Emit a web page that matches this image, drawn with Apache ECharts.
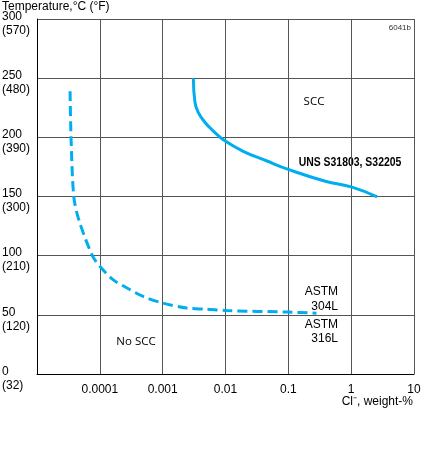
<!DOCTYPE html>
<html>
<head>
<meta charset="utf-8">
<script src="https://cdn.jsdelivr.net/npm/echarts@6/dist/echarts.min.js"></script>
<style>
  html, body { margin: 0; padding: 0; background: #fff; }
  #main { width: 424px; height: 467px; }
</style>
</head>
<body>
<div id="main"></div>
<script>
// 数据：Cl- 含量 (weight-%) 与温度 (°C)
var xTicks = [0.00001, 0.0001, 0.001, 0.01, 0.1, 1, 10];
var xTickLabels = ['', '0.0001', '0.001', '0.01', '0.1', '1', '10'];
var yTicksC = [0, 50, 100, 150, 200, 250, 300];
var yTicksF = [32, 120, 210, 300, 390, 480, 570];

// ASTM 304L / 316L 曲线（虚线）
var austeniticCl = [0.0000336, 0.0000348, 0.0000385, 0.0000462, 0.000076, 0.0001, 0.000162, 0.000267, 0.00049, 0.001, 0.0024, 0.005, 0.0105, 0.1, 0.28];
var austeniticT  = [239, 200, 150, 130.5, 100, 91, 79.7, 72.9, 65.5, 60, 55.7, 54.8, 53.6, 52.3, 51.4];

// UNS S31803, S32205 曲线（实线）
var duplexCl = [0.00308, 0.00327, 0.0037, 0.00473, 0.00641, 0.0095, 0.0195, 0.0456, 0.1, 0.388, 1.03, 2.59];
var duplexT  = [250, 229.4, 220.9, 212.5, 205.3, 197.5, 188, 180, 172.9, 162.9, 157.9, 149.7];

function pairs(xs, ys) {
    return xs.map(function (x, i) { return [x, ys[i]]; });
}

var myChart = echarts.init(document.getElementById('main'));
var lineColor = '#00aeef';
var gridColor = '#555';

var option = {
    animation: false,
    grid: { left: 37, right: 10, top: 19, bottom: 93, containLabel: false, outerBoundsMode: 'none' },
    xAxis: {
        type: 'log',
        logBase: 10,
        min: xTicks[0],
        max: xTicks[xTicks.length - 1],
        axisLine: { show: true, lineStyle: { color: '#000', width: 1 } },
        axisTick: { show: false },
        splitLine: { show: true, lineStyle: { color: gridColor, width: 1 } },
        axisLabel: {
            color: '#000',
            fontFamily: 'Liberation Sans',
            fontSize: 12,
            margin: 10,
            formatter: function (v) {
                var idx = xTicks.indexOf(Number(v));
                if (idx < 0) {
                    idx = Math.round(Math.log10(v)) + 5;
                }
                return xTickLabels[idx] || '';
            }
        }
    },
    yAxis: {
        type: 'value',
        min: 0,
        max: 300,
        interval: 50,
        axisLine: { show: true, lineStyle: { color: '#000', width: 1 } },
        axisTick: { show: false },
        splitLine: { show: true, lineStyle: { color: gridColor, width: 1 } },
        axisLabel: {
            color: '#000',
            align: 'left',
            margin: 35,
            formatter: function (v) {
                var idx = yTicksC.indexOf(v);
                return '{s| }\n{a|' + yTicksC[idx] + '}\n{a|(' + yTicksF[idx] + ')}';
            },
            rich: {
                s: { fontSize: 1, lineHeight: 9 },
                a: { fontFamily: 'Liberation Sans', fontSize: 12, lineHeight: 14, color: '#000' }
            }
        }
    },
    series: [
        {
            name: 'ASTM 304L / 316L',
            type: 'line',
            data: pairs(austeniticCl, austeniticT),
            smooth: 0.3,
            symbol: 'none',
            lineStyle: { color: lineColor, width: 3, type: [10, 5] }
        },
        {
            name: 'UNS S31803, S32205',
            type: 'line',
            data: pairs(duplexCl, duplexT),
            smooth: 0.45,
            symbol: 'none',
            lineStyle: { color: lineColor, width: 3 }
        }
    ],
    graphic: [
        { type: 'text', left: 2, top: 1, style: { text: 'Temperature,°C (°F)', font: '12px "Liberation Sans"', fill: '#000' } },
        { type: 'text', x: 411, y: 28, style: { text: '6041b', font: '8px "Liberation Sans"', fill: '#333', textAlign: 'right', textVerticalAlign: 'middle' } },
        { type: 'text', x: 314, y: 102, style: { text: 'SCC', font: '11.5px "Open Sans"', fill: '#000', textAlign: 'center', textVerticalAlign: 'middle' } },
        { type: 'text', x: 136, y: 342, style: { text: 'No SCC', font: '11.5px "Open Sans"', fill: '#000', textAlign: 'center', textVerticalAlign: 'middle' } },
        { type: 'text', x: 350, y: 163, scaleX: 0.87, style: { text: 'UNS S31803, S32205', font: 'bold 12px "Liberation Sans"', fill: '#000', textAlign: 'center', textVerticalAlign: 'middle' } },
        { type: 'text', x: 338, y: 299, style: { text: 'ASTM\n304L', font: '12px "Liberation Sans"', lineHeight: 15, fill: '#000', textAlign: 'right', textVerticalAlign: 'middle' } },
        { type: 'text', x: 338, y: 332, style: { text: 'ASTM\n316L', font: '12px "Liberation Sans"', lineHeight: 14, fill: '#000', textAlign: 'right', textVerticalAlign: 'middle' } },
        { type: 'text', x: 413, y: 402, style: { text: 'Cl⁻, weight-%', font: '12px "Liberation Sans"', fill: '#000', textAlign: 'right', textVerticalAlign: 'middle' } }
    ]
};

myChart.setOption(option);
window.onresize = function () {
    myChart.resize();
};
</script>
</body>
</html>
